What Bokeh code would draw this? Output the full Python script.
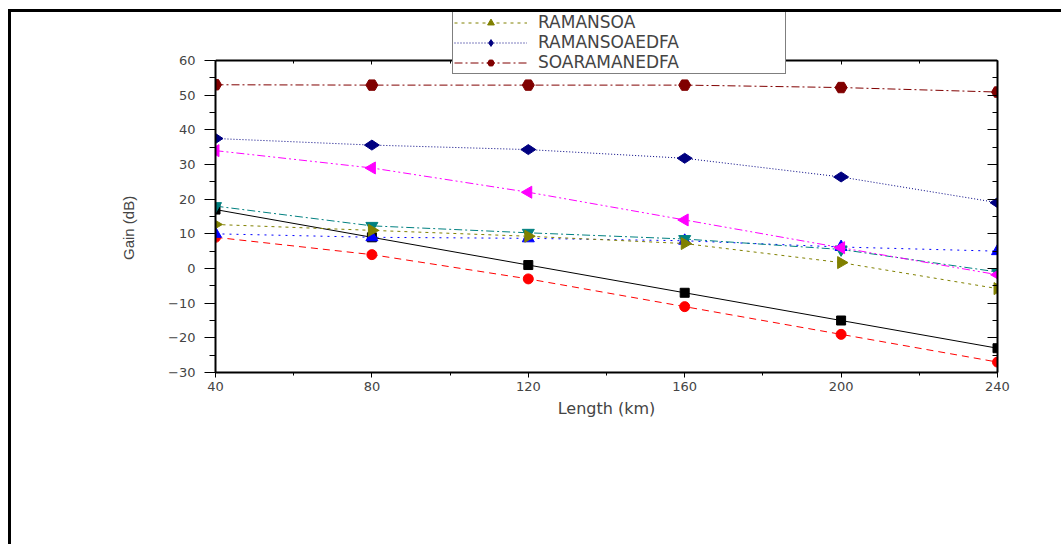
import math
from bokeh.plotting import figure
from bokeh.models import (LinearAxis, Legend, LegendItem, FixedTicker,
                          CustomJSTickFormatter, Range1d)
from bokeh.embed import file_html
from bokeh.resources import INLINE

# ---------------- data ----------------
length_km = [40, 80, 120, 160, 200, 240]

series_names = ["RAMAN", "EDFA", "SOA", "SOAEDFA",
                "RAMANEDFA", "RAMANSOA", "RAMANSOAEDFA", "SOARAMANEDFA"]
gain_raman = [17, 9, 1, -7, -15, -23]
gain_edfa = [9, 4, -3, -11, -19, -27]
gain_soa = [10, 9, 8.7, 8, 6.2, 5]
gain_soaedfa = [18, 12.3, 10.3, 8.5, 5.5, -1]
gain_ramanedfa = [34, 29, 22, 14, 6, -1.8]
gain_ramansoa = [12.7, 11, 9.3, 7.2, 1.7, -5.8]
gain_ramansoaedfa = [37.5, 35.6, 34.3, 31.8, 26.4, 19]
gain_soaramanedfa = [53, 52.9, 52.9, 52.9, 52.2, 50.9]

x_ticks = [40, 80, 120, 160, 200, 240]
x_minor = [40, 60, 80, 100, 120, 140, 160, 180, 200, 220, 240]
y_ticks = [-30, -20, -10, 0, 10, 20, 30, 40, 50, 60]
y_minor = list(range(-30, 61, 5))
y_axis_bounds = (-30, 60)

# ---------------- figure ----------------
# frame: 360 px tall, y=60 sits 48 px below the frame top
Y_TOP = 60 + 48 * 90 / 312.0
p = figure(width=1053, height=535, output_backend="svg", toolbar_location=None,
           x_range=Range1d(40, 240), y_range=Range1d(-30, Y_TOP),
           min_border_left=204, min_border_right=67,
           min_border_top=0, min_border_bottom=175)
p.styles = {"margin-left": "8px", "margin-top": "9px",
            "border-top": "3px solid black", "border-left": "3px solid black"}
p.grid.visible = False
p.outline_line_color = None
p.background_fill_color = "white"
p.border_fill_color = "white"

TICK_FONT = "DejaVu Sans"
blank = CustomJSTickFormatter(code="return '';")

xa = p.xaxis[0]
xa.ticker = FixedTicker(ticks=x_ticks, minor_ticks=x_minor)
xa.axis_label = "Length (km)"
xa.axis_label_text_font = "DejaVu Sans"
xa.axis_label_text_font_size = "16px"
xa.axis_label_text_font_style = "normal"
xa.axis_label_standoff = 5
xa.major_label_text_font = TICK_FONT
xa.major_label_text_font_size = "13px"
xa.major_label_standoff = 4
xa.major_tick_in = 0
xa.major_tick_out = 5
xa.minor_tick_in = 0
xa.minor_tick_out = 3
xa.axis_line_width = 2

ya = p.yaxis[0]
ya.ticker = FixedTicker(ticks=y_ticks, minor_ticks=y_minor)
ya.bounds = y_axis_bounds
# trailing no-break spaces push the rotated label down to the middle of the -30..60 span
ya.axis_label = "Gain (dB)" + "\u00a0" * 17
ya.axis_label_text_font = "Liberation Sans"
ya.axis_label_text_font_size = "15px"
ya.axis_label_text_font_style = "normal"
ya.axis_label_standoff = 28
ya.major_label_text_font = TICK_FONT
ya.major_label_text_font_size = "13px"
ya.major_label_standoff = 9
ya.major_tick_in = 0
ya.major_tick_out = 11
ya.minor_tick_in = 0
ya.minor_tick_out = 6
ya.axis_line_width = 2

# top edge of the box: an x axis fixed at y = 60 (ticks point down into the data)
top = LinearAxis(ticker=FixedTicker(ticks=x_ticks, minor_ticks=x_minor),
                 formatter=blank, fixed_location=60,
                 major_tick_in=0, major_tick_out=4,
                 minor_tick_in=0, minor_tick_out=3, axis_line_width=2,
                 major_label_text_font_size="1px")
p.add_layout(top, "below")

right = LinearAxis(ticker=FixedTicker(ticks=y_ticks, minor_ticks=y_minor),
                   formatter=blank, bounds=y_axis_bounds,
                   major_tick_in=10, major_tick_out=0,
                   minor_tick_in=5, minor_tick_out=0, axis_line_width=2,
                   major_label_text_font_size="1px")
p.add_layout(right, "right")

styles = [
    # values, color, dash, marker, size, angle
    (gain_raman, "#000000", "solid", "square", 9, 0),
    (gain_edfa, "#FF0000", "7 5", "circle", 10, 0),
    (gain_soa, "#0000FF", "2 5", "triangle", 12, 0),
    (gain_soaedfa, "#008080", "8 3 2 3", "inverted_triangle", 12, 0),
    (gain_ramanedfa, "#FF00FF", "8 3 2 3 2 3", "triangle", 12, math.pi / 2),
    (gain_ramansoa, "#808000", "3 4", "triangle", 12, -math.pi / 2),
    (gain_ramansoaedfa, "#000080", "1 2", "diamond", 15, math.pi / 2),
    (gain_soaramanedfa, "#800000", "8 3 2 3", "hex", 12, 0),
]

items = []
for name, (vals, col, dash, mk, sz, ang) in zip(series_names, styles):
    ln = p.line(length_km, vals, line_color=col, line_width=1, line_dash=dash)
    sc = p.scatter(length_km, vals, marker=mk, size=sz, angle=ang,
                   fill_color=col, line_color=col)
    items.append(LegendItem(label=name, renderers=[ln, sc]))

legend = Legend(items=items[4:], location=(237, 298),
                label_text_font="DejaVu Sans", label_text_font_size="17px",
                glyph_width=73, glyph_height=17, label_height=17,
                label_width=246, spacing=0, padding=1, label_standoff=11,
                border_line_color="black", border_line_width=1,
                background_fill_color="white", background_fill_alpha=1.0,
                margin=0)
p.add_layout(legend, "center")

open("out.html", "w").write(file_html(p, INLINE))
